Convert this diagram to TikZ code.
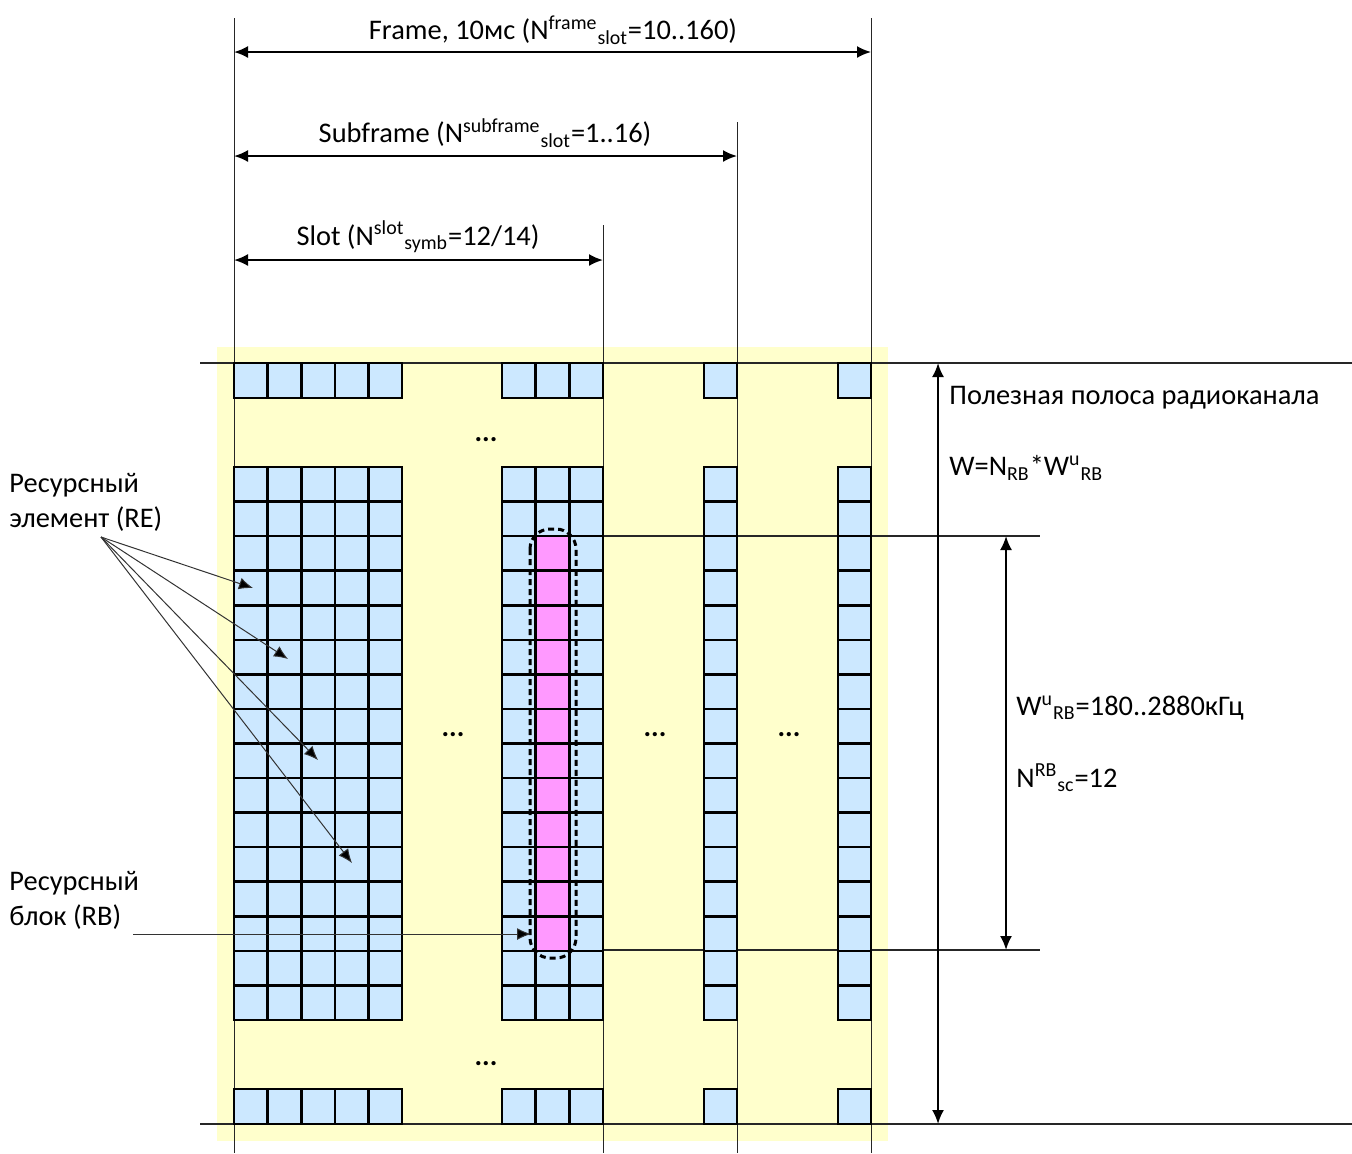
\documentclass[tikz,border=0pt]{standalone}
\usepackage{fontspec}
\setmainfont{Carlito}
\usetikzlibrary{arrows.meta}
\definecolor{band}{HTML}{FFFFCC}
\definecolor{cellfill}{HTML}{CCE8FF}
\definecolor{rbfill}{HTML}{FF99FF}
\definecolor{leader}{HTML}{333333}

\begin{document}
\begin{tikzpicture}[x=0.5pt,y=-0.5pt,line join=miter,
  cell/.style={fill=cellfill,draw=black,line width=1.3pt},
  rbcell/.style={fill=rbfill,draw=black,line width=1.3pt},
  dim/.style={{Latex[length=7pt,width=6pt]}-{Latex[length=7pt,width=6pt]},line width=1pt},
  guide/.style={draw=black!85,line width=0.5pt},
  lead/.style={-{Latex[length=7pt,width=6pt,fill=black]},draw=leader,line width=0.5pt},
  lbl/.style={font=\fontsize{14.2}{17.5}\selectfont,inner sep=0pt}]
  \useasboundingbox (0,0) rectangle (1352,1153);
  \fill[band] (217,347) rectangle (888,1141);

  % guide lines
  \draw[guide] (234,18) -- (234,1153) (603,225) -- (603,1153)
    (737,122) -- (737,1153) (871,18) -- (871,1153);
  \draw[guide,line width=0.6pt] (200,363) -- (1352,363) (200,1124) -- (1352,1124);
  \draw[guide,line width=0.6pt] (570,536) -- (1040,536) (570,950) -- (1040,950);

  % time dimensions
  \coordinate (frameL) at (234,52);    \coordinate (frameR) at (871,52);
  \coordinate (subL) at (234,156);     \coordinate (subR) at (737,156);
  \coordinate (slotL) at (234,260);    \coordinate (slotR) at (603,260);
  \draw[dim] (frameL) -- (frameR);
  \draw[dim] (subL) -- (subR);
  \draw[dim] (slotL) -- (slotR);
  \node[lbl] (framelbl) at (553,30) {Frame, 10мс (N\textsuperscript{frame}\textsubscript{slot}=10..160)};
  \node[lbl] (sublbl) at (485,133) {Subframe (N\textsuperscript{subframe}\textsubscript{slot}=1..16)};
  \node[lbl] (slotlbl) at (418,237) {Slot (N\textsuperscript{slot}\textsubscript{symb}=12/14)};

  % bandwidth dimensions
  \coordinate (bandT) at (938,363);    \coordinate (bandB) at (938,1124);
  \coordinate (rbT) at (1006,536);     \coordinate (rbB) at (1006,950);
  \draw[dim] (bandT) -- (bandB);
  \draw[dim] (rbT) -- (rbB);
  \node[lbl,anchor=west] (bandlbl) at (949,398) {Полезная полоса радиоканала};
  \node[lbl,anchor=west] (wlbl) at (949,468) {W=N\textsubscript{RB}*W\textsuperscript{u}\textsubscript{RB}};
  \node[lbl,anchor=west] (wrblbl) at (1016,708) {W\textsuperscript{u}\textsubscript{RB}=180..2880кГц};
  \node[lbl,anchor=west] (nsclbl) at (1016,778) {N\textsuperscript{RB}\textsubscript{sc}=12};

  % resource grid
  \foreach \x/\w/\n in {234/33.6/5,502/33.67/3,704/33/1,838/33/1}{
    \foreach \i in {1,...,\n}{
      \draw[cell] ({\x+(\i-1)*\w},363) rectangle ++(\w,35);
      \draw[cell] ({\x+(\i-1)*\w},1089) rectangle ++(\w,35);
      \foreach \j in {0,...,15}
        \draw[cell] ({\x+(\i-1)*\w},{467+\j*34.56}) rectangle ++(\w,34.56);
    }
  }
  \foreach \j in {2,...,13}
    \draw[rbcell] (535.67,{467+\j*34.56}) rectangle ++(33.67,34.56);
  \draw[dashed,line width=1.5pt,dash pattern=on 3pt off 2pt,rounded corners=10pt]
    (530,529) rectangle (576,958);

  \node[lbl] (dotsT) at (486,440) {\textbf{...}};
  \node[lbl] (dotsB) at (486,1064) {\textbf{...}};
  \node[lbl] (dotsA) at (453,735) {\textbf{...}};
  \node[lbl] (dotsC) at (655,735) {\textbf{...}};
  \node[lbl] (dotsD) at (789,735) {\textbf{...}};

  % left labels
  \node[lbl,anchor=north west,align=left] (relbl) at (9,473) {Ресурсный\\элемент (RE)};
  \node[lbl,anchor=north west,align=left] (rblbl) at (9,871) {Ресурсный\\блок (RB)};
  \coordinate (refoot) at (101,537);
  \coordinate (rbfoot) at (133,934);
  \foreach \tx/\ty in {253/588,288/659,318/760,352/863}
    \draw[lead] (refoot) -- (\tx,\ty);
  \draw[lead] (rbfoot) -- (531,934);
\end{tikzpicture}
\end{document}
